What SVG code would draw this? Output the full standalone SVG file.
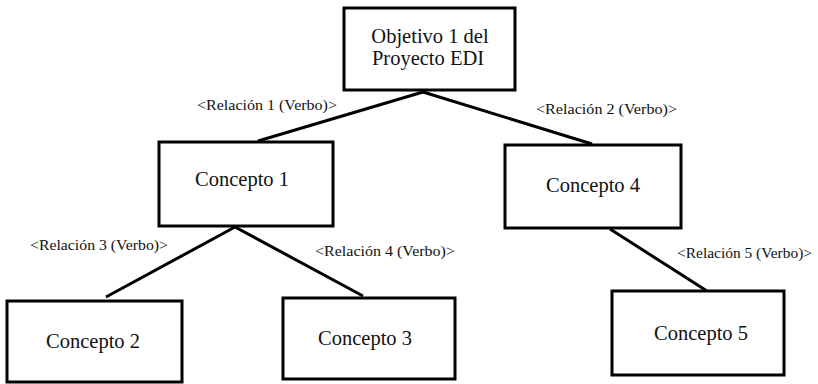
<svg xmlns="http://www.w3.org/2000/svg" width="818" height="384" viewBox="0 0 818 384">
<style>
.box{fill:#fff;stroke:#000;stroke-width:3}
.lbl{font-family:"Liberation Serif","Times New Roman",serif;font-size:20.5px;fill:#111}
.rel{font-family:"Liberation Serif","Times New Roman",serif;font-size:15px;fill:#111}
.edge{stroke:#000;stroke-width:3;fill:none}
</style>
<rect width="818" height="384" fill="#fff"/>
<g id="connectors">
<line class="edge" x1="423" y1="92" x2="258" y2="141"/>
<line class="edge" x1="423" y1="92" x2="592" y2="144"/>
<line class="edge" x1="235" y1="227" x2="106" y2="297"/>
<line class="edge" x1="235" y1="227" x2="363" y2="296"/>
<line class="edge" x1="610" y1="229" x2="707" y2="291"/>
<text class="rel" x="197" y="110" textLength="140" lengthAdjust="spacingAndGlyphs">&lt;Relación 1 (Verbo)&gt;</text>
<text class="rel" x="536" y="114" textLength="141" lengthAdjust="spacingAndGlyphs">&lt;Relación 2 (Verbo)&gt;</text>
<text class="rel" x="30" y="250" textLength="138" lengthAdjust="spacingAndGlyphs">&lt;Relación 3 (Verbo)&gt;</text>
<text class="rel" x="315" y="256" textLength="140" lengthAdjust="spacingAndGlyphs">&lt;Relación 4 (Verbo)&gt;</text>
<text class="rel" x="677" y="258" textLength="135" lengthAdjust="spacingAndGlyphs">&lt;Relación 5 (Verbo)&gt;</text>
</g>
<g id="objetivo">
<rect class="box" x="344" y="8" width="171" height="82"/>
<text class="lbl" x="430" y="43" text-anchor="middle">Objetivo 1 del</text>
<text class="lbl" x="428" y="65" text-anchor="middle">Proyecto EDI</text>
</g>
<g id="concepto1">
<rect class="box" x="159" y="142" width="174" height="84"/>
<text class="lbl" x="242" y="186" text-anchor="middle">Concepto 1</text>
</g>
<g id="concepto4">
<rect class="box" x="505" y="145" width="176" height="83"/>
<text class="lbl" x="593" y="192" text-anchor="middle">Concepto 4</text>
</g>
<g id="concepto2">
<rect class="box" x="7" y="301" width="175" height="81"/>
<text class="lbl" x="93" y="348" text-anchor="middle">Concepto 2</text>
</g>
<g id="concepto3">
<rect class="box" x="283" y="298" width="172" height="81"/>
<text class="lbl" x="365" y="345" text-anchor="middle">Concepto 3</text>
</g>
<g id="concepto5">
<rect class="box" x="612" y="291" width="172" height="84"/>
<text class="lbl" x="701" y="340" text-anchor="middle">Concepto 5</text>
</g>
</svg>
